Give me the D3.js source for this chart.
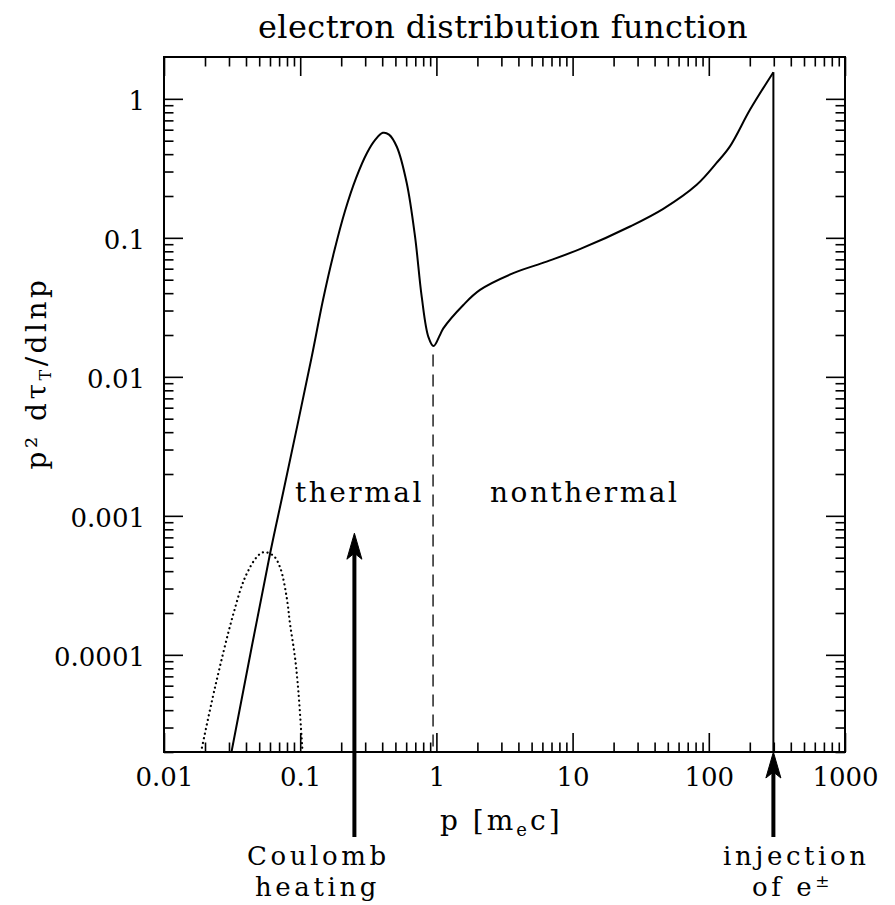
<!DOCTYPE html>
<html><head><meta charset="utf-8">
<script src="https://cdn.jsdelivr.net/npm/d3@7"></script>
<style>
body{margin:0;background:#fff;}
svg text{font-family:"DejaVu Serif",serif;fill:#000;}
</style></head><body>
<svg id="chart" width="895" height="905"></svg>
<script>
// ---------- data ----------
const titleText = "electron distribution function";
const xTickValues = [0.01, 0.1, 1, 10, 100, 1000];
const xTickLabels = ["0.01", "0.1", "1", "10", "100", "1000"];
const yTickValues = [0.0001, 0.001, 0.01, 0.1, 1];
const yTickLabels = ["0.0001", "0.001", "0.01", "0.1", "1"];
const minorMultipliers = [2, 3, 4, 5, 6, 7, 8, 9];
const xDomain = [0.01, 1000];
const yDomain = [2e-5, 2];

// solid curve: total electron distribution
const solidP = [0.0313, 0.060, 0.0748, 0.121, 0.147, 0.1771, 0.2133, 0.257, 0.3092, 0.354, 0.404, 0.449, 0.512, 0.605, 0.697, 0.780, 0.873, 0.953, 1.062, 1.124, 1.577, 2.09, 3.67, 6.45, 11.3, 26.4, 46.3, 81.5, 114, 143, 201, 298];
const solidV = [2.0e-5, 5.31e-4, 1.46e-3, 0.01365, 0.0357, 0.079, 0.156, 0.269, 0.408, 0.505, 0.570, 0.553, 0.452, 0.249, 0.102, 0.0377, 0.0194, 0.01665, 0.0200, 0.0223, 0.0329, 0.0422, 0.0557, 0.0675, 0.0829, 0.1207, 0.1618, 0.241, 0.346, 0.455, 0.837, 1.555];

// dotted curve: Maxwellian reference
const dottedP = [0.0187, 0.02367, 0.0323, 0.0394, 0.0479, 0.0536, 0.0634, 0.0711, 0.0796, 0.0842, 0.0916, 0.0969, 0.1040];
const dottedV = [2.0e-5, 5.82e-5, 1.97e-4, 3.61e-4, 5.04e-4, 5.47e-4, 5.18e-4, 4.27e-4, 2.59e-4, 1.67e-4, 9.58e-5, 5.51e-5, 2.0e-5];

const separatorP = 0.945, separatorTopV = 0.0155;
const injectionP = 298, injectionTopV = 1.555;
const coulombP = 0.25, coulombTipV = 7.5e-4;

// ---------- layout ----------
const frame = {left: 164, top: 57, right: 845, bottom: 752};
const svg = d3.select("#chart");
const x = d3.scaleLog().domain(xDomain).range([frame.left, frame.right]);
const y = d3.scaleLog().domain(yDomain).range([frame.bottom, frame.top]);

const xMinor = [], yMinor = [];
for (let e = -3; e <= 3; e++) minorMultipliers.forEach(k => {
  const v = k * Math.pow(10, e);
  if (v > xDomain[0] && v < xDomain[1]) xMinor.push(v);
});
for (let e = -6; e <= 1; e++) minorMultipliers.forEach(k => {
  const v = k * Math.pow(10, e);
  if (v >= yDomain[0] * 0.999 && v < yDomain[1]) yMinor.push(v);
});

const MAJ = 19, MIN = 9.5;
function styleAxis(g) {
  g.select(".domain").remove();
  g.selectAll(".tick line").attr("stroke", "#000").attr("stroke-width", 1.6);
}
// bottom
svg.append("g").attr("transform", `translate(0,${frame.bottom})`)
  .call(d3.axisBottom(x).tickValues(xTickValues).tickSize(-MAJ).tickSizeOuter(0).tickPadding(15.5)
    .tickFormat((d, i) => xTickLabels[i]))
  .call(styleAxis)
  .selectAll("text").attr("font-size", 26).attr("font-family", "DejaVu Serif");
svg.append("g").attr("transform", `translate(0,${frame.bottom})`)
  .call(d3.axisBottom(x).tickValues(xMinor).tickSize(-MIN).tickSizeOuter(0).tickFormat(""))
  .call(styleAxis);
// top
svg.append("g").attr("transform", `translate(0,${frame.top})`)
  .call(d3.axisTop(x).tickValues(xTickValues).tickSize(-MAJ).tickSizeOuter(0).tickFormat(""))
  .call(styleAxis);
svg.append("g").attr("transform", `translate(0,${frame.top})`)
  .call(d3.axisTop(x).tickValues(xMinor).tickSize(-MIN).tickSizeOuter(0).tickFormat(""))
  .call(styleAxis);
// left
svg.append("g").attr("transform", `translate(${frame.left},0)`)
  .call(d3.axisLeft(y).tickValues(yTickValues).tickSize(-MAJ).tickSizeOuter(0).tickPadding(19)
    .tickFormat((d, i) => yTickLabels[i]))
  .call(styleAxis)
  .selectAll("text").attr("font-size", 26).attr("font-family", "DejaVu Serif").attr("dy", "0.40em");
svg.append("g").attr("transform", `translate(${frame.left},0)`)
  .call(d3.axisLeft(y).tickValues(yMinor).tickSize(-MIN).tickSizeOuter(0).tickFormat(""))
  .call(styleAxis);
// right
svg.append("g").attr("transform", `translate(${frame.right},0)`)
  .call(d3.axisRight(y).tickValues(yTickValues).tickSize(-MAJ).tickSizeOuter(0).tickFormat(""))
  .call(styleAxis);
svg.append("g").attr("transform", `translate(${frame.right},0)`)
  .call(d3.axisRight(y).tickValues(yMinor).tickSize(-MIN).tickSizeOuter(0).tickFormat(""))
  .call(styleAxis);

// frame
svg.append("rect").attr("x", frame.left).attr("y", frame.top)
  .attr("width", frame.right - frame.left).attr("height", frame.bottom - frame.top)
  .attr("fill", "none").attr("stroke", "#000").attr("stroke-width", 2);

// clip
svg.append("clipPath").attr("id", "plotclip").append("rect")
  .attr("x", frame.left).attr("y", frame.top)
  .attr("width", frame.right - frame.left).attr("height", frame.bottom - frame.top);
const plot = svg.append("g").attr("clip-path", "url(#plotclip)");

const line = d3.line().x(d => x(d[0])).y(d => y(d[1])).curve(d3.curveCatmullRom.alpha(0.5));

plot.append("path").datum(dottedP.map((p, i) => [p, dottedV[i]]))
  .attr("d", line).attr("fill", "none").attr("stroke", "#000").attr("stroke-width", 2.2)
  .attr("stroke-linecap", "round").attr("stroke-dasharray", "0.1 4.6");

plot.append("path").datum(solidP.map((p, i) => [p, solidV[i]]))
  .attr("d", line).attr("fill", "none").attr("stroke", "#000").attr("stroke-width", 2);

// injection vertical line
plot.append("line").attr("x1", x(injectionP)).attr("x2", x(injectionP))
  .attr("y1", y(injectionTopV)).attr("y2", y(yDomain[0]))
  .attr("stroke", "#000").attr("stroke-width", 2);

// separator dashed line
plot.append("line").attr("x1", x(separatorP)).attr("x2", x(separatorP))
  .attr("y1", y(separatorTopV) + 4).attr("y2", y(yDomain[0]))
  .attr("stroke", "#000").attr("stroke-width", 1.3).attr("stroke-dasharray", "12 8");

// arrows
function arrow(px, tipY, tailY) {
  svg.append("line").attr("x1", px).attr("x2", px).attr("y1", tipY + 14).attr("y2", tailY)
    .attr("stroke", "#000").attr("stroke-width", 4);
  svg.append("path")
    .attr("d", `M${px},${tipY} L${px + 7.5},${tipY + 26} L${px},${tipY + 20} L${px - 7.5},${tipY + 26} Z`)
    .attr("fill", "#000").attr("stroke", "#000").attr("stroke-width", 1);
}
arrow(x(coulombP), y(coulombTipV), 837);
arrow(x(injectionP), y(yDomain[0]), 837);

// texts
function word(t, xx, yy, size, ls) {
  return svg.append("text").attr("x", xx).attr("y", yy).attr("font-size", size)
    .attr("letter-spacing", ls).text(t);
}
word("thermal", 295, 502, 28, 2.5);
word("nonthermal", 490, 502, 28, 2.5);
word("Coulomb", 247, 865, 26, 3.6);
word("heating", 255, 896, 26, 3.6);
word("injection", 723, 865, 26, 3.6);
const ofe = word("of e", 752, 896, 26, 3.6);
ofe.append("tspan").attr("dy", -9).attr("font-size", 17).attr("letter-spacing", 0).text("\u00b1");

svg.append("text").attr("x", 258).attr("y", 38).attr("font-size", 32).attr("letter-spacing", 0.4)
  .text(titleText);

// x label
const xl = svg.append("text").attr("x", 440).attr("y", 830).attr("font-size", 28).attr("letter-spacing", 3);
xl.append("tspan").text("p [m");
xl.append("tspan").attr("dy", 6).attr("font-size", 18).text("e");
xl.append("tspan").attr("dy", -6).text("c]");

// y label
const yl = svg.append("text").attr("transform", "translate(46,373) rotate(-90)")
  .attr("text-anchor", "middle").attr("font-size", 28).attr("letter-spacing", 3.5);
yl.append("tspan").text("p\u00b2 d\u03c4");
yl.append("tspan").attr("dy", 5).attr("font-size", 16).text("T");
yl.append("tspan").attr("dy", -5).text("/dlnp");
</script>
</body></html>
